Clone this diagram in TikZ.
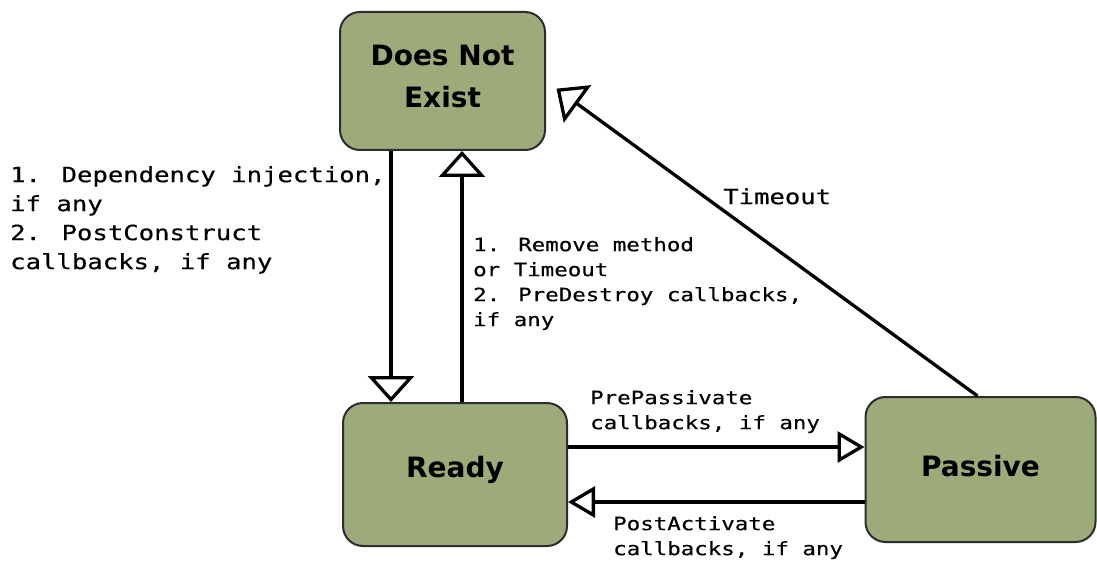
\documentclass[tikz,border=0pt]{standalone}
\usepackage{fontspec}
\usetikzlibrary{arrows.meta}
\newfontfamily\statefont{DejaVu Sans}
\newfontfamily\notefont[FakeStretch=1.22,FakeBold=0.4]{DejaVu Sans Mono}
\definecolor{statefill}{RGB}{157,171,122}
\definecolor{stateedge}{RGB}{45,45,45}
% state captions sit slightly above the box centre (raised, but keeping their natural size)
\newcommand{\statetext}[2]{\raisebox{#1}[\height][\depth]{\begin{tabular}{@{}c@{}}#2\end{tabular}}}

\begin{document}
\begin{tikzpicture}[x=1pt,y=-1pt,
  state/.style={draw=stateedge, line width=2pt, fill=statefill,
    rounded corners=20pt, align=center, inner sep=0pt,
    font=\statefont\bfseries\fontsize{28}{42}\selectfont},
  flow/.style={line width=3.3pt, -{Triangle[open, length=26pt, width=46pt]}},
  sideflow/.style={line width=3.3pt, -{Triangle[open, length=27pt, width=31pt]}},
  note/.style={anchor=north west, inner sep=0pt, align=left},
  bignote/.style={note, font=\notefont\fontsize{21}{29}\selectfont},
  smallnote/.style={note, font=\notefont\fontsize{18.4}{25}\selectfont},
]
\useasboundingbox (0,0) rectangle (1097,561);

% lifecycle states
\node[state, minimum width=205pt, minimum height=138pt] (dne) at (442.5,81) {\statetext{3pt}{Does Not\\Exist}};
\node[state, minimum width=224pt, minimum height=143pt] (ready) at (455,474.5) {\statetext{5pt}{Ready}};
\node[state, minimum width=230pt, minimum height=145pt] (passive) at (980.5,469.5) {\statetext{1pt}{Passive}};

% vertical transitions between Does Not Exist and Ready
\coordinate (downx) at ([xshift=52pt]dne.south west);
\coordinate (upx) at ([xshift=123pt]dne.south west);
\draw[flow] (downx) -- (downx |- ready.north);
\draw[flow] (upx |- ready.north) -- (upx);

% passivation and activation
\draw[sideflow] ([yshift=27.5pt]ready.east) -- ([yshift=27.5pt]ready.east -| passive.west);
\draw[sideflow] ([yshift=-27.5pt]ready.east -| passive.west) -- ([yshift=-27.5pt]ready.east);

% timeout while passive
\draw[flow, shorten >=13pt] ([xshift=113pt]passive.north west) -- (dne.east);

% transition notes
\node[bignote] (inject) at (10,166) {1. Dependency injection,\\if any\\2. PostConstruct\\callbacks, if any};
\node[smallnote] (destroy) at (473,237) {1. Remove method\\or Timeout\\2. PreDestroy callbacks,\\if any};
\node[bignote] (timeout) at (723,188) {Timeout};
\node[smallnote] (prepass) at (590,390) {PrePassivate\\callbacks, if any};
\node[smallnote] (postact) at (613,516) {PostActivate\\callbacks, if any};
\end{tikzpicture}
\end{document}
